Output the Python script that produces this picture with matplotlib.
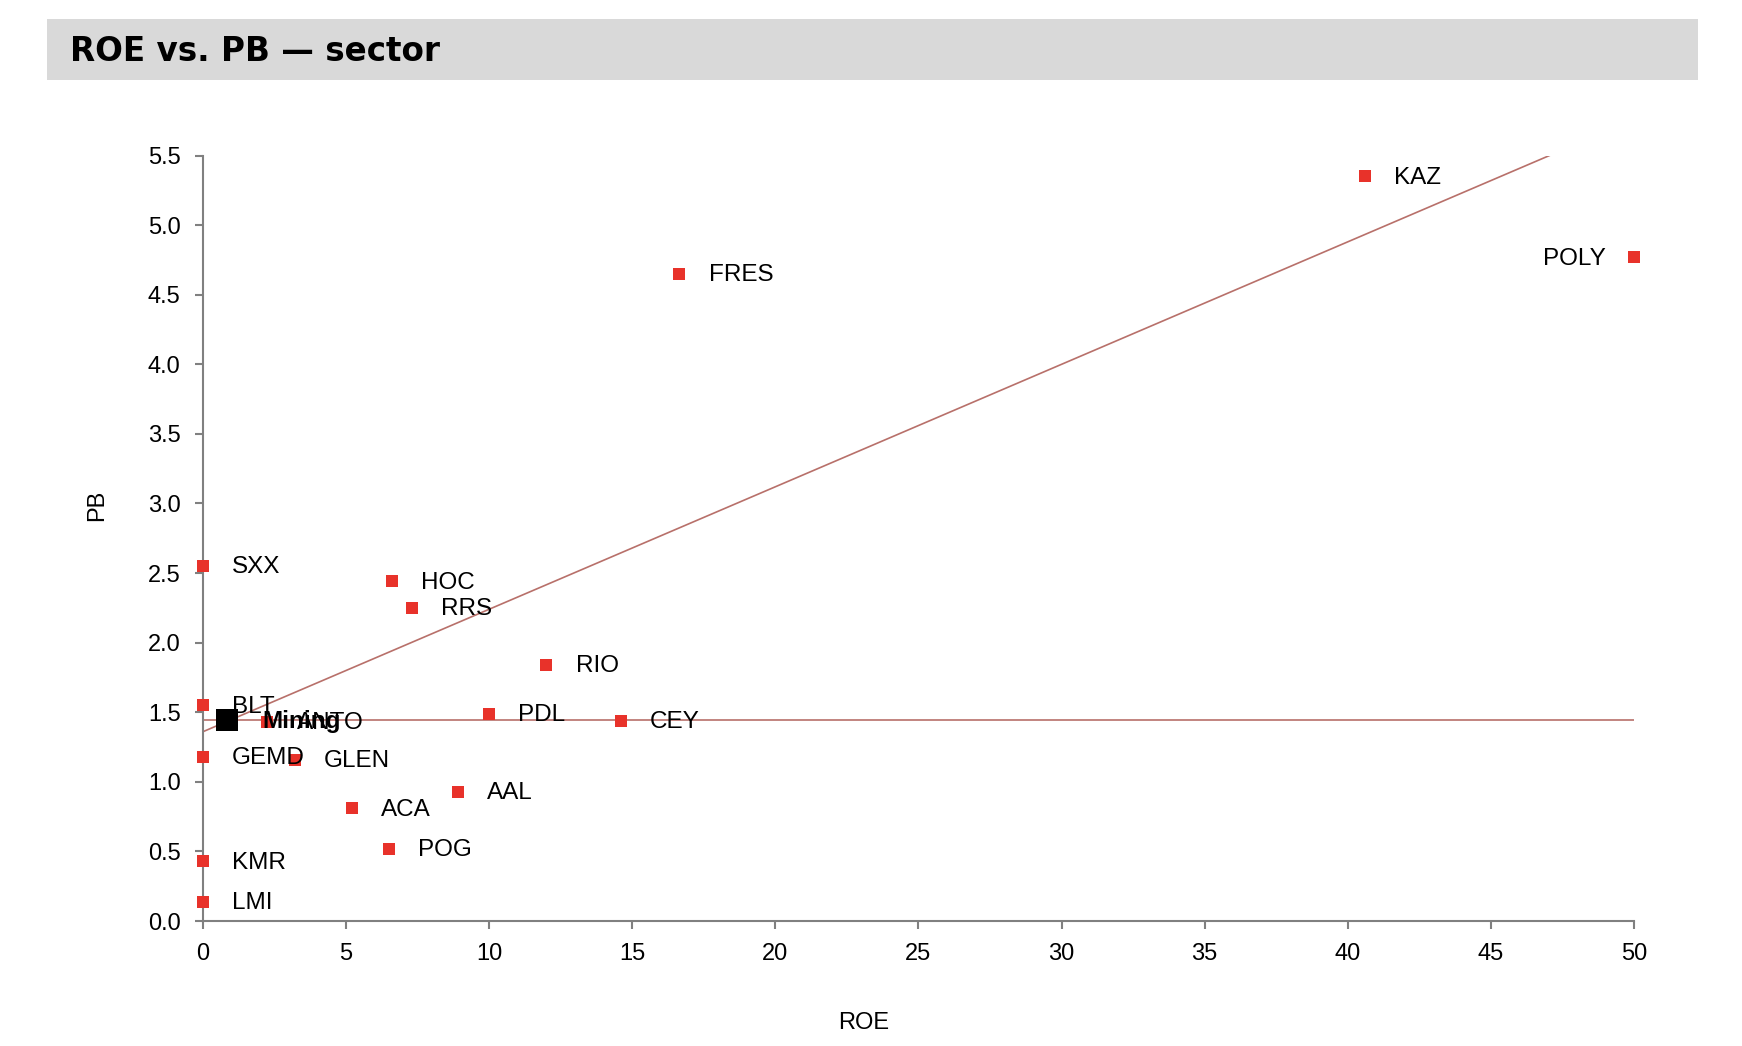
import matplotlib
matplotlib.use("Agg")
import matplotlib.pyplot as plt
from matplotlib.patches import Rectangle

# company data
tickers = ["KAZ", "POLY", "FRES", "SXX", "HOC", "RRS", "RIO", "BLT", "PDL", "CEY",
           "ANTO", "GEMD", "GLEN", "AAL", "ACA", "POG", "KMR", "LMI"]
roe = [40.6, 50.0, 16.65, 0.0, 6.6, 7.3, 12.0, 0.0, 10.0, 14.6,
       2.25, 0.0, 3.2, 8.9, 5.2, 6.5, 0.0, 0.0]
pb = [5.35, 4.77, 4.65, 2.55, 2.44, 2.25, 1.84, 1.55, 1.49, 1.44,
      1.43, 1.18, 1.16, 0.93, 0.81, 0.52, 0.43, 0.14]

# sector aggregate
sector_name = "Mining"
sector_roe = 0.85
sector_pb = 1.445

# trend line
trend_intercept = 1.36
trend_slope = 0.088

plt.rcParams['font.family'] = ['Liberation Sans', 'DejaVu Sans']

fig = plt.figure(figsize=(17.42, 10.46), dpi=100)
ax = fig.add_axes([0.1165, 0.1195, 0.8215, 0.7318])

line_color = "#B8706A"
red = "#E8322A"

# horizontal sector line + trend line
ax.plot([0, 50], [sector_pb, sector_pb], color=line_color, lw=1.2, zorder=1)
ax.plot([0, 50], [trend_intercept, trend_intercept + trend_slope * 50],
        color=line_color, lw=1.2, zorder=1)

ax.scatter(roe, pb, marker="s", s=85, color=red, zorder=3, clip_on=False, linewidths=0)
ax.scatter([sector_roe], [sector_pb], marker="s", s=260, color="black", zorder=4,
           clip_on=False, linewidths=0)

for t, x, y in zip(tickers, roe, pb):
    if t == "POLY":
        ax.annotate(t, (x, y), xytext=(-20, -1), textcoords="offset points",
                    ha="right", va="center", fontsize=17.5)
    else:
        ax.annotate(t, (x, y), xytext=(21, -1), textcoords="offset points",
                    ha="left", va="center", fontsize=17.5)
# sector label sits on top of ANTO, as in the original
ax.annotate(sector_name, (sector_roe, sector_pb), xytext=(25, -1), textcoords="offset points",
            ha="left", va="center", fontsize=17.5, fontweight="bold", zorder=5)

ax.set_xlim(0, 50)
ax.set_ylim(0, 5.5)
ax.set_xticks(range(0, 51, 5))
ax.set_yticks([i * 0.5 for i in range(12)])
ax.set_yticklabels([f"{i * 0.5:.1f}" for i in range(12)])

for side in ["top", "right"]:
    ax.spines[side].set_visible(False)
for side in ["left", "bottom"]:
    ax.spines[side].set_color("#808080")
    ax.spines[side].set_linewidth(1.5)
ax.tick_params(colors="#808080", labelcolor="black", labelsize=17, length=6, width=1.5, pad=10)

fig.text(0.496, 0.022, "ROE", ha="center", va="center", fontsize=17)
fig.text(0.0557, 0.517, "PB", ha="center", va="center", rotation=90, fontsize=17)

# grey title banner
fig.patches.append(Rectangle((0.027, 0.9235), 0.948, 0.0583, transform=fig.transFigure,
                             facecolor="#D9D9D9", edgecolor="none", zorder=0))
fig.text(0.040, 0.9505, "ROE vs. PB \u2014 sector", ha="left", va="center",
         fontsize=23.5, fontweight="bold", family="DejaVu Sans")

fig.savefig("out.png", dpi=100)
